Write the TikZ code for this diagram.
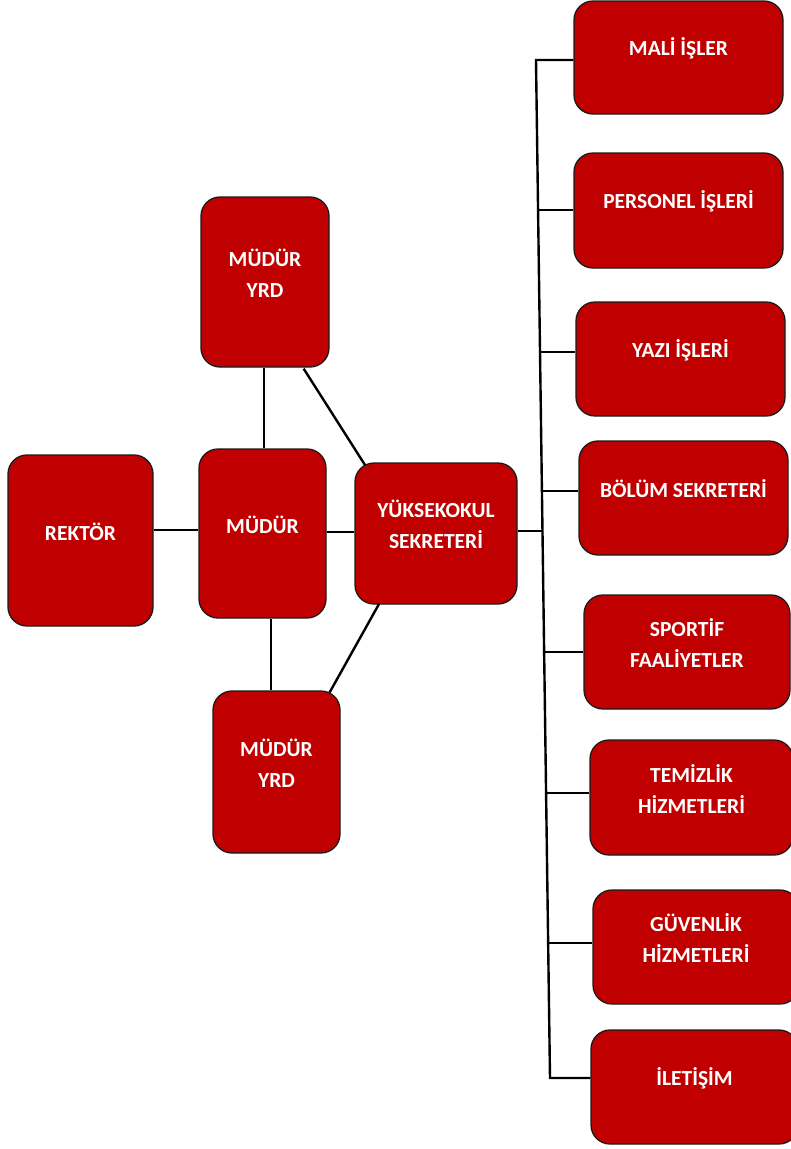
\documentclass[tikz,border=0pt]{standalone}
\usepackage{fontspec}
\setmainfont{Carlito}
\usetikzlibrary{calc}
\definecolor{boxred}{HTML}{C00000}
\definecolor{boxline}{HTML}{1A1A1A}
\tikzset{
  box/.style={draw=boxline, line width=1.3pt, fill=boxred, rounded corners=19pt, inner sep=0pt},
  lbl/.style={text=white, font=\bfseries\fontsize{21.5}{31}\selectfont, align=center, inner sep=0pt},
  conn/.style={draw=black, line width=2.4pt}
}
\newcommand{\orgbox}[6]{% name, x1, y1, x2, y2, text
  \node[box, minimum width={#4-#2}, minimum height={#5-#3}] (#1) at ({(#2+#4)/2},{(#3+#5)/2}) {};
  \node[lbl] (#1-t) at ([yshift=9pt]#1.center) {#6};
}
\begin{document}
\begin{tikzpicture}[x=1pt,y=-1pt]
\useasboundingbox (0,0) rectangle (791,1149);
\coordinate (b1) at (536,60);
\coordinate (b2) at (538.1,210);
\coordinate (b3) at (540,352);
\coordinate (b4) at (541.9,491);
\coordinate (bs) at (542.5,531);
\coordinate (b5) at (544.1,652);
\coordinate (b6) at (546.1,793);
\coordinate (b7) at (548.1,943);
\coordinate (b8) at (550,1078);
% boxes
\orgbox{rektor}{8}{455}{153}{626}{REKTÖR}
\orgbox{mudur}{199}{449}{326}{618}{MÜDÜR}
\orgbox{yrda}{201}{197}{329}{367}{MÜDÜR\\YRD}
\orgbox{yrdb}{213}{691}{340}{853}{MÜDÜR\\YRD}
\orgbox{yuksek}{355}{463}{517}{604}{YÜKSEKOKUL\\SEKRETERİ}
\orgbox{mali}{574}{1}{783}{114}{MALİ İŞLER}
\orgbox{pers}{574}{153}{783}{268}{PERSONEL İŞLERİ}
\orgbox{yazi}{576}{302}{785}{416}{YAZI İŞLERİ}
\orgbox{bolum}{579}{441}{788}{555}{BÖLÜM SEKRETERİ}
\orgbox{sport}{584}{595}{790}{709}{SPORTİF\\FAALİYETLER}
\orgbox{temiz}{590}{740}{793}{855}{TEMİZLİK\\HİZMETLERİ}
\orgbox{guven}{593}{890}{799}{1004}{GÜVENLİK\\HİZMETLERİ}
\orgbox{ilet}{591}{1030}{798}{1144}{İLETİŞİM}
% left connectors
\draw[conn] (rektor.east |- 0,530) -- (mudur.west |- 0,530);
\draw[conn] (mudur.east |- 0,532) -- (yuksek.west |- 0,532);
\draw[conn] (264,0 |- yrda.south) -- (264,0 |- mudur.north);
\draw[conn] (271,0 |- mudur.south) -- (271,0 |- yrdb.north);
\draw[conn] (yrda.south east) ++(-26,1) coordinate (da) (da) -- (365,465);
\draw[conn] (yrdb.north east) ++(-11,2) coordinate (db) (db) -- (379,604);
\draw[conn] (yuksek.east |- bs) -- (bs);
% bus
\draw[conn] (mali.west |- b1) -- (b1) -- (b8) -- (ilet.west |- b8);
\draw[conn] (b2) -- (pers.west |- b2);
\draw[conn] (b3) -- (yazi.west |- b3);
\draw[conn] (b4) -- (bolum.west |- b4);
\draw[conn] (b5) -- (sport.west |- b5);
\draw[conn] (b6) -- (temiz.west |- b6);
\draw[conn] (b7) -- (guven.west |- b7);
\end{tikzpicture}
\end{document}
